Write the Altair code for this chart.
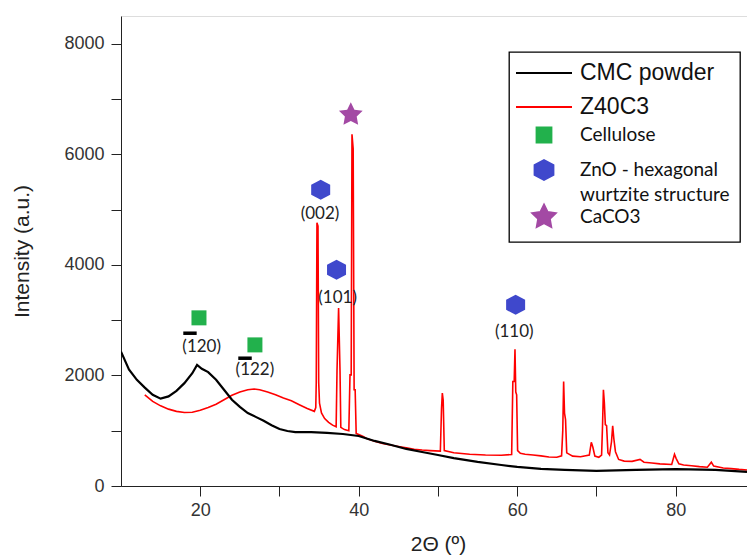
import math
import altair as alt
import pandas as pd

# ---------------- data ----------------
cmc_x = [10, 11, 12, 13, 14, 15, 16, 17, 18, 19, 19.6, 20.2, 21, 22, 23, 24, 25, 26, 27, 28, 29, 30,
         31, 32, 34, 36, 38, 40, 42, 44, 46, 48, 50, 52, 55, 58, 60, 63, 66, 70, 75, 80, 85, 89]
cmc_y = [2430, 2110, 1920, 1780, 1650, 1580, 1620, 1720, 1860, 2040, 2190, 2120, 2060, 1920, 1740,
         1560, 1430, 1320, 1250, 1180, 1100, 1030, 995, 975, 975, 960, 940, 905, 815, 745, 670, 615,
         560, 505, 435, 380, 345, 310, 290, 275, 290, 305, 290, 255]

z40_x = [13.0, 14.0, 15.0, 16.0, 17.0, 18.0, 19.0, 20.0, 21.0, 22.0, 23.0, 24.0, 25.0, 26.0, 26.8,
         27.5, 28.5, 29.5, 30.5, 31.5, 32.5, 33.5, 34.4, 34.58, 34.64, 34.73, 34.86, 34.95, 35.05,
         35.3, 35.7, 36.2, 36.7, 37.15, 37.26, 37.46, 37.64, 37.74, 38.2, 38.75, 38.9, 39.05, 39.15,
         39.3, 39.42, 39.55, 39.68, 40.0, 40.5, 41.0, 42.0, 43.0, 44.0, 45.0, 46.0, 47.0, 48.0, 49.0,
         50.3, 50.45, 50.55, 50.66, 50.8, 52.0, 54.0, 56.0, 58.0, 59.3, 59.45, 59.62, 59.72, 59.82,
         59.93, 60.05, 60.4, 61.0, 62.0, 63.0, 64.0, 65.0, 65.6, 65.75, 65.86, 65.97, 66.1, 66.25,
         67.0, 68.0, 69.1, 69.35, 69.55, 69.8, 70.3, 70.65, 70.77, 70.88, 71.0, 71.12, 71.28, 71.45,
         71.65, 71.9, 72.05, 72.2, 72.4, 72.8, 73.5, 74.5, 75.5, 76.0, 77.0, 78.0, 79.5, 79.85, 80.05,
         80.4, 81.0, 82.0, 83.0, 84.0, 84.5, 84.8, 86.0, 87.0, 88.0, 89.0]
z40_y = [1650, 1530, 1450, 1390, 1350, 1330, 1335, 1370, 1420, 1480, 1560, 1640, 1700, 1740, 1755,
         1740, 1700, 1650, 1590, 1540, 1470, 1400, 1350, 1420, 1870, 4760, 4700, 1870, 1500,
         1320, 1220, 1150, 1100, 1070, 2080, 3220, 2080, 1060, 1020, 1000, 2010, 2010, 6360,
         6100, 1740, 1740, 950, 930, 900, 860, 810, 770, 740, 715, 690, 665, 650, 640,
         630, 1400, 1680, 1550, 640, 600, 575, 560, 555, 570, 1890, 1890, 2475, 1700,
         1650, 640, 590, 575, 560, 545, 525, 520, 545, 1000, 1890, 1320, 1200, 600,
         540, 530, 560, 790, 700, 540, 520, 560, 1100, 1740, 1500, 1110, 1090, 600,
         560, 800, 1090, 850, 620, 480, 450, 445, 480, 430, 415, 400, 390, 575, 500,
         400, 380, 365, 350, 340, 430, 360, 325, 315, 300, 290]

legend_names = ["CMC powder", "Z40C3", "Cellulose", "ZnO - hexagonal wurtzite structure", "CaCO3"]

marker_series = ["Cellulose", "Cellulose",
                 "ZnO - hexagonal wurtzite structure", "ZnO - hexagonal wurtzite structure",
                 "ZnO - hexagonal wurtzite structure", "CaCO3"]
marker_x = [19.84, 26.9, 35.2, 37.2, 59.8, 39.0]
marker_y = [3041, 2552, 5357, 3909, 3276, 6715]

hkl_text = ["(120)", "(122)", "(002)", "(101)", "(110)"]
hkl_x = [20.18, 26.9, 35.11, 37.34, 59.63]
hkl_y = [2521, 2100, 4918, 3397, 2793]

bar_x1 = [17.86, 24.8]
bar_x2 = [19.55, 26.5]
bar_y = [2763, 2311]

x_ticks = [20, 30, 40, 50, 60, 70, 80]
y_ticks = [0, 1000, 2000, 3000, 4000, 5000, 6000, 7000, 8000]

# ---------------- styles ----------------
series_colors = ["#000000", "#ff0000", "#22b14c", "#3f48cc", "#a349a4"]

# symbol paths (unit = 10 px at size 400); trailing moves only set legend row spacing
CMC_PATH = "M-2.8,0H2.8M0,1.7"
Z40_PATH = "M-2.8,0H2.8M0,-1.4M0,1.25"
SQUARE_PATH = "M-0.75,-0.75H0.75V0.75H-0.75ZM0,-1.1M0,2.0"
HEX_PATH = "M0,-1L0.95,-0.5L0.95,0.5L0,1L-0.95,0.5L-0.95,-0.5ZM0,-1.1"
pts = []
for k in range(10):
    r = 1.25 if k % 2 == 0 else 0.62
    a = math.radians(-90 + 36 * k)
    pts.append(f"{r * math.cos(a):.3f},{r * math.sin(a):.3f}")
STAR_PATH = "M" + "L".join(pts) + "ZM0,1.1"
series_shapes = [CMC_PATH, Z40_PATH, SQUARE_PATH, HEX_PATH, STAR_PATH]

cmc_df = pd.DataFrame({"x": cmc_x, "y": cmc_y})
z40_df = pd.DataFrame({"x": z40_x, "y": z40_y})
mk_df = pd.DataFrame({"series": marker_series, "x": marker_x, "y": marker_y})
hkl_df = pd.DataFrame({"t": hkl_text, "x": hkl_x, "y": hkl_y})
bar_df = pd.DataFrame({"x1": bar_x1, "x2": bar_x2, "y": bar_y})

XDOM = [10, 89]
YDOM = [0, 8500]

x_enc = alt.X("x:Q", scale=alt.Scale(domain=XDOM, nice=False, zero=False),
              axis=alt.Axis(values=x_ticks, format="d",
                            labelExpr="datum.value % 20 == 0 ? datum.label : ''",
                            tickSize=10, labelPadding=5, labelFont="Liberation Sans",
                            labelFontSize=18, labelColor="#333333", domainColor="#222222",
                            tickColor="#222222", grid=False, title="2Θ (º)",
                            titleFont="Liberation Sans", titleFontSize=21,
                            titleFontWeight="normal", titleColor="#222222",
                            titleX=317, titleY=58, titleBaseline="middle"))
y_enc = alt.Y("y:Q", scale=alt.Scale(domain=YDOM, nice=False),
              axis=alt.Axis(values=y_ticks, format="d",
                            labelExpr="datum.value % 2000 == 0 ? datum.label : ''",
                            tickSize=10, labelPadding=7, labelFont="Liberation Sans",
                            labelFontSize=18, labelColor="#333333", domainColor="#222222",
                            tickColor="#222222", grid=False, title="Intensity (a.u.)",
                            titleFont="Liberation Sans", titleFontSize=21,
                            titleFontWeight="normal", titleColor="#222222",
                            titleX=-99, titleY=235, titleBaseline="middle", titleAngle=270))

red_line = alt.Chart(z40_df).mark_line(color="#ff0000", strokeWidth=1.6, clip=True).encode(
    x=x_enc, y=y_enc)
black_line = alt.Chart(cmc_df).mark_line(color="#000000", strokeWidth=2.2, clip=True).encode(
    x="x:Q", y="y:Q")

legend = alt.Legend(
    title=None, orient="none", legendX=388, legendY=36,
    strokeColor="#000000", fillColor="#ffffff", padding=10,
    labelExpr="datum.label == 'ZnO - hexagonal wurtzite structure' ? ['ZnO - hexagonal', 'wurtzite structure'] : datum.label",
    labelFont=alt.ExprRef(expr="datum.label == 'CMC powder' || datum.label == 'Z40C3' ? 'Liberation Sans' : 'Lato'"),
    labelFontSize=alt.ExprRef(expr="datum.label == 'CMC powder' || datum.label == 'Z40C3' ? 23 : 19"),
    labelColor="#111111", labelLimit=400, labelOffset=25,
    symbolSize=400, symbolStrokeWidth=1.8, symbolOffset=14, rowPadding=-5,
)

markers = alt.Chart(mk_df).mark_point(filled=True, size=400, opacity=1, strokeWidth=0).encode(
    x="x:Q", y="y:Q",
    color=alt.Color("series:N", scale=alt.Scale(domain=legend_names, range=series_colors), legend=legend),
    stroke=alt.Stroke("series:N", scale=alt.Scale(domain=legend_names, range=series_colors), legend=legend),
    shape=alt.Shape("series:N", scale=alt.Scale(domain=legend_names, range=series_shapes), legend=legend),
)

labels = alt.Chart(hkl_df).mark_text(font="Lato", fontSize=17, color="#222222").encode(
    x="x:Q", y="y:Q", text="t:N")

bars = alt.Chart(bar_df).mark_rule(color="#000000", strokeWidth=3.5).encode(
    x="x1:Q", x2="x2:Q", y="y:Q")

chart = alt.layer(red_line, black_line, markers, labels, bars).properties(
    width=626, height=470,
    autosize=alt.AutoSizeParams(type="none"),
    padding={"left": 121, "top": 16, "right": 0, "bottom": 71},
).configure_view(stroke=None).configure(
    style={"guide-label": {"lineHeight": 25}}
).configure_legend(strokeWidth=1.3)

chart.save("out.html", embed_options={"renderer": "svg", "actions": False})
